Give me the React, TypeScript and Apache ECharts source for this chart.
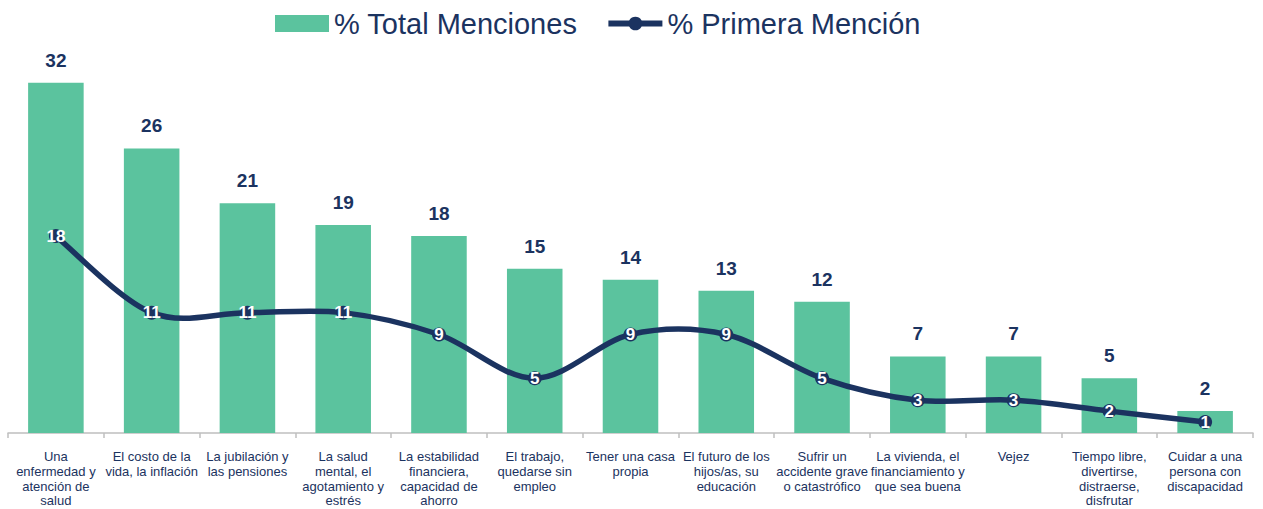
import React, { useEffect, useRef } from "react";
import * as echarts from "echarts";

const categories = [
  "Una\nenfermedad y\natención de\nsalud",
  "El costo de la\nvida, la inflación",
  "La jubilación y\nlas pensiones",
  "La salud\nmental, el\nagotamiento y\nestrés",
  "La estabilidad\nfinanciera,\ncapacidad de\nahorro",
  "El trabajo,\nquedarse sin\nempleo",
  "Tener una casa\npropia",
  "El futuro de los\nhijos/as, su\neducación",
  "Sufrir un\naccidente grave\no catastrófico",
  "La vivienda, el\nfinanciamiento y\nque sea buena",
  "Vejez",
  "Tiempo libre,\ndivertirse,\ndistraerse,\ndisfrutar",
  "Cuidar a una\npersona con\ndiscapacidad",
];

const totalMenciones = [32, 26, 21, 19, 18, 15, 14, 13, 12, 7, 7, 5, 2];
const primeraMencion = [18, 11, 11, 11, 9, 5, 9, 9, 5, 3, 3, 2, 1];

const GREEN = "#5BC39E";
const NAVY = "#1B3360";
const FONT = "'Liberation Sans', Arial, sans-serif";

export default function App() {
  const ref = useRef<HTMLDivElement>(null);
  useEffect(() => {
    if (!ref.current) return;
    const chart = echarts.init(ref.current, null, { renderer: "svg" });
    const n = primeraMencion.length;
    chart.setOption({
      animation: false,
      textStyle: { fontFamily: FONT },
      legend: {
        top: 4,
        left: 270,
        itemWidth: 54,
        itemHeight: 17,
        itemGap: 28,
        textStyle: { fontSize: 29, color: NAVY, fontFamily: FONT },
        data: [
          { name: "% Total Menciones", icon: "rect" },
          {
            name: "% Primera Mención",
            lineStyle: { color: NAVY, width: 6, opacity: 1 },
            itemStyle: { color: NAVY },
          },
        ],
      },
      grid: {
        left: 8,
        right: 10,
        top: 50,
        bottom: 76,
        containLabel: false,
        outerBoundsMode: "none",
      },
      xAxis: {
        type: "category",
        data: categories,
        boundaryGap: true,
        axisLine: { lineStyle: { color: "#BFBFBF", width: 1.5 } },
        axisTick: { show: true, length: 5, lineStyle: { color: "#BFBFBF", width: 1.5 } },
        axisLabel: {
          interval: 0,
          margin: 16,
          fontSize: 13,
          lineHeight: 14.8,
          color: NAVY,
          fontFamily: FONT,
          align: "center",
        },
      },
      yAxis: {
        type: "value",
        min: 0,
        max: 35,
        show: false,
        splitLine: { show: false },
      },
      series: [
        {
          name: "% Total Menciones",
          type: "bar",
          data: totalMenciones,
          barWidth: "58%",
          itemStyle: { color: GREEN },
          label: {
            show: true,
            position: "top",
            distance: 13,
            fontSize: 19,
            fontWeight: "bold",
            color: NAVY,
            fontFamily: FONT,
          },
          z: 1,
        },
        {
          name: "curve",
          type: "custom",
          data: primeraMencion.map((v, i) => [i, v]),
          encode: { x: 0, y: 1 },
          silent: true,
          z: 2,
          renderItem: (params: any, api: any) => {
            const i = params.dataIndex;
            if (i >= n - 1) return null;
            const p = (k: number) => {
              const kk = Math.max(0, Math.min(n - 1, k));
              return api.coord([kk, primeraMencion[kk]]);
            };
            const p0 = p(i - 1);
            const p1 = p(i);
            const p2 = p(i + 1);
            const p3 = p(i + 2);
            const t = 6;
            return {
              type: "bezierCurve",
              shape: {
                x1: p1[0],
                y1: p1[1],
                cpx1: p1[0] + (p2[0] - p0[0]) / t,
                cpy1: p1[1] + (p2[1] - p0[1]) / t,
                cpx2: p2[0] - (p3[0] - p1[0]) / t,
                cpy2: p2[1] - (p3[1] - p1[1]) / t,
                x2: p2[0],
                y2: p2[1],
              },
              style: { stroke: NAVY, lineWidth: 5.5, fill: null, lineCap: "round" },
            };
          },
        },
        {
          name: "% Primera Mención",
          type: "line",
          data: primeraMencion,
          symbol: "circle",
          symbolSize: 14,
          lineStyle: { color: NAVY, width: 0, opacity: 0 },
          itemStyle: { color: NAVY },
          label: {
            show: true,
            position: "inside",
            fontSize: 17,
            fontWeight: "bold",
            color: "#FFFFFF",
            fontFamily: FONT,
          },
          z: 3,
        },
      ],
    });
    return () => chart.dispose();
  }, []);
  return (
    <div
      ref={ref}
      style={{ position: "absolute", left: 0, top: 0, width: 1263, height: 509 }}
    />
  );
}
